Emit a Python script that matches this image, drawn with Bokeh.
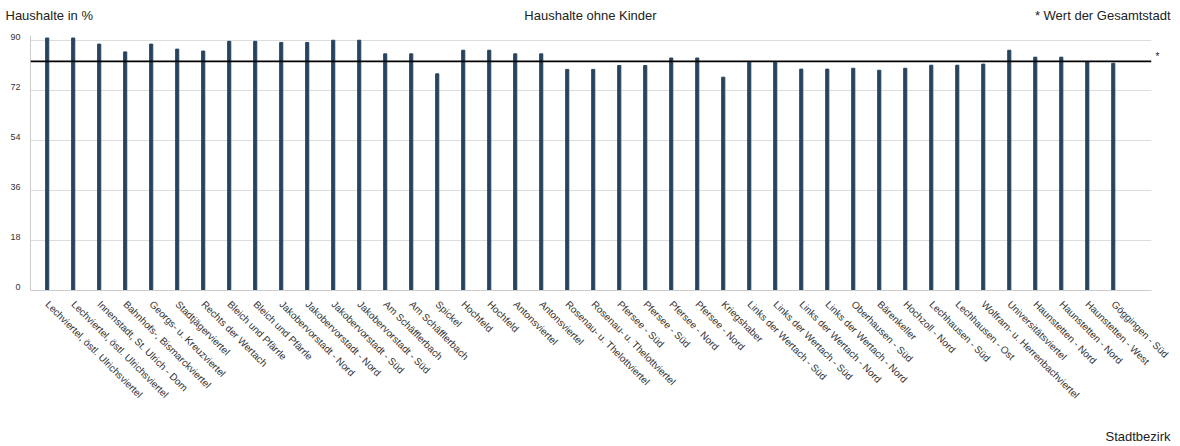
import math
from bokeh.plotting import figure
from bokeh.models import FixedTicker, Span, Label, Range1d, ColumnDataSource
from bokeh.embed import file_html
from bokeh.resources import INLINE

districts = [
    "Lechviertel, östl. Ulrichsviertel",
    "Lechviertel, östl. Ulrichsviertel",
    "Innenstadt, St. Ulrich - Dom",
    "Bahnhofs-, Bismarckviertel",
    "Georgs- u. Kreuzviertel",
    "Stadtjägerviertel",
    "Rechts der Wertach",
    "Bleich und Pfärrle",
    "Bleich und Pfärrle",
    "Jakobervorstadt - Nord",
    "Jakobervorstadt - Nord",
    "Jakobervorstadt - Süd",
    "Jakobervorstadt - Süd",
    "Am Schäfflerbach",
    "Am Schäfflerbach",
    "Spickel",
    "Hochfeld",
    "Hochfeld",
    "Antonsviertel",
    "Antonsviertel",
    "Rosenau- u. Thelottviertel",
    "Rosenau- u. Thelottviertel",
    "Pfersee - Süd",
    "Pfersee - Süd",
    "Pfersee - Nord",
    "Pfersee - Nord",
    "Kriegshaber",
    "Links der Wertach - Süd",
    "Links der Wertach - Süd",
    "Links der Wertach - Nord",
    "Links der Wertach - Nord",
    "Oberhausen - Süd",
    "Bärenkeller",
    "Hochzoll - Nord",
    "Lechhausen - Süd",
    "Lechhausen - Ost",
    "Wolfram- u. Herrenbachviertel",
    "Universitätsviertel",
    "Haunstetten - Nord",
    "Haunstetten - Nord",
    "Haunstetten - West",
    "Göggingen - Süd",
]

values = [
    90.9, 90.9, 88.7, 85.9, 88.7, 86.9, 86.2, 89.7, 89.7, 89.3,
    89.3, 90.1, 90.1, 85.2, 85.2, 78.0, 86.5, 86.5, 85.2, 85.2,
    79.6, 79.6, 81.0, 81.0, 83.7, 83.7, 76.8, 82.2, 82.2, 79.7,
    79.7, 80.0, 79.3, 80.0, 81.1, 81.1, 81.5, 86.5, 84.0, 84.0,
    82.3, 81.8,
]

city_value = 82.5
y_ticks = [0, 18, 36, 54, 72, 90]

FONT = "Liberation Sans"
TEXT = "#222222"

src = ColumnDataSource(dict(x=list(range(len(values))), top=values, name=districts))

p = figure(
    width=1180, height=446, output_backend="svg", toolbar_location=None,
    x_range=Range1d(-0.642, 42.47), y_range=Range1d(0, 91.8),
    min_border_left=30, min_border_right=29, min_border_top=35, min_border_bottom=156,
)
p.outline_line_color = None
p.background_fill_color = "white"

p.vbar(x="x", top="top", width=0.12, source=src, color="#27445e")

p.add_layout(Span(location=city_value, dimension="width", line_color="black", line_width=1.6))

p.xgrid.grid_line_color = None
p.ygrid.ticker = FixedTicker(ticks=y_ticks)
p.ygrid.grid_line_color = "#dddddd"
p.ygrid.grid_line_width = 1

xa = p.xaxis[0]
xa.ticker = FixedTicker(ticks=list(range(len(districts))))
xa.major_label_overrides = {i: n for i, n in enumerate(districts)}
xa.major_label_orientation = -math.pi / 4
xa.major_tick_line_color = None
xa.minor_tick_line_color = None
xa.axis_line_color = "#cccccc"
xa.major_label_text_font = FONT
xa.major_label_text_font_size = "10px"
xa.major_label_text_color = "#333333"
xa.major_label_standoff = 6

# y tick labels sit just above their grid lines (as in the original)
lift = 1.1
label_pos = [round(v + lift, 2) for v in y_ticks]
ya = p.yaxis[0]
ya.ticker = FixedTicker(ticks=label_pos)
ya.major_label_overrides = {lp: str(v) for lp, v in zip(label_pos, y_ticks)}
ya.major_tick_line_color = None
ya.minor_tick_line_color = None
ya.axis_line_color = "#cccccc"
ya.major_label_text_font = FONT
ya.major_label_text_font_size = "9px"
ya.major_label_text_color = "#333333"
ya.major_label_standoff = 4

def mk(x, y, text, align, size="13px"):
    return Label(x=x, y=y, text=text, text_align=align, text_baseline="middle",
                 x_units="canvas", y_units="canvas",
                 text_font=FONT, text_font_size=size, text_color=TEXT)

p.add_layout(mk(590, 15, "Haushalte ohne Kinder", "center"), "above")
p.add_layout(mk(5, 15, "Haushalte in %", "left"), "above")
p.add_layout(mk(1170, 15, "* Wert der Gesamtstadt", "right"), "below")
p.add_layout(mk(1170, 436, "Stadtbezirk", "right"), "below")
p.add_layout(mk(1157, 56, "*", "center", "10px"), "right")

open("out.html", "w").write(file_html(p, INLINE))
